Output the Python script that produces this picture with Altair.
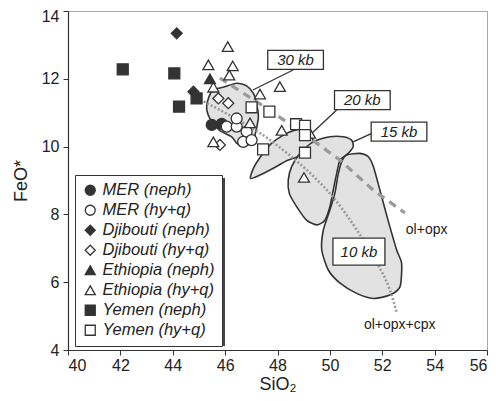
import altair as alt
import pandas as pd

FONT = "Liberation Sans"

# ---------------- sample data (SiO2, FeO*) ----------------
group_names = ["MER (neph)", "MER (hy+q)", "Djibouti (neph)", "Djibouti (hy+q)",
               "Ethiopia (neph)", "Ethiopia (hy+q)", "Yemen (neph)", "Yemen (hy+q)"]
group_shapes = ["circle", "circle", "diamond", "diamond",
                "triangle-up", "triangle-up", "square", "square"]
group_fills = ["#333333", "white", "#333333", "white",
               "#333333", "white", "#333333", "white"]
group_strokes = ["#333333"] * 8

mer_neph_x = [45.49, 45.87]
mer_neph_y = [10.64, 10.67]
mer_hyq_x = [46.06, 46.44, 46.44, 46.82, 46.69, 47.01]
mer_hyq_y = [10.59, 10.59, 10.83, 10.44, 10.14, 10.19]
dji_neph_x = [44.15, 44.79]
dji_neph_y = [13.34, 11.62]
dji_hyq_x = [45.74, 46.12, 45.80]
dji_hyq_y = [11.42, 11.28, 10.05]
eth_neph_x = [45.42]
eth_neph_y = [12.00]
eth_hyq_x = [46.10, 45.36, 46.29, 46.16, 45.55, 48.09, 47.33, 46.95, 48.16, 49.14, 49.24, 45.55, 49.01]
eth_hyq_y = [12.95, 12.41, 12.38, 12.11, 11.75, 11.77, 11.55, 10.70, 10.48, 10.44, 10.39, 10.14, 9.09]
yem_neph_x = [42.09, 44.06, 44.24, 44.91]
yem_neph_y = [12.28, 12.16, 11.18, 11.42]
yem_hyq_x = [47.01, 47.69, 48.71, 49.05, 49.05, 49.05, 47.45]
yem_hyq_y = [11.16, 11.03, 10.66, 10.61, 10.34, 9.82, 9.92]

group_x = [mer_neph_x, mer_hyq_x, dji_neph_x, dji_hyq_x, eth_neph_x, eth_hyq_x, yem_neph_x, yem_hyq_x]
group_y = [mer_neph_y, mer_hyq_y, dji_neph_y, dji_hyq_y, eth_neph_y, eth_hyq_y, yem_neph_y, yem_hyq_y]

# ---------------- melting fields (polygons) ----------------
p30_x = [45.36, 45.55, 45.93, 46.44, 46.82, 47.08, 47.20, 47.27, 47.20, 47.10, 46.95, 46.69, 46.44, 46.25, 45.80, 45.49, 45.30]
p30_y = [11.42, 11.67, 11.75, 11.87, 11.79, 11.57, 11.28, 10.88, 10.54, 10.24, 10.08, 10.00, 10.10, 10.29, 10.47, 10.73, 11.08]
p20_x = [46.97, 47.08, 47.40, 47.78, 48.22, 48.60, 48.99, 49.24, 49.37, 49.24, 48.86, 48.35, 47.84, 47.33]
p20_y = [9.06, 9.36, 9.75, 10.10, 10.34, 10.47, 10.51, 10.39, 10.14, 9.90, 9.72, 9.58, 9.36, 9.16]
p15_x = [48.41, 48.54, 48.86, 49.37, 50.00, 50.51, 50.83, 50.89, 50.70, 50.39, 50.26, 50.13, 50.00, 49.81, 49.50, 49.11, 48.73, 48.45]
p15_y = [9.01, 9.41, 9.80, 10.14, 10.29, 10.29, 10.19, 10.00, 9.80, 9.60, 9.21, 8.72, 8.23, 7.83, 7.69, 7.83, 8.23, 8.62]
p10_x = [50.45, 50.64, 51.15, 51.47, 51.66, 51.91, 52.22, 52.55, 52.74, 52.68, 52.29, 51.66, 51.02, 50.39, 49.94, 49.69, 49.75, 50.00, 50.19, 50.31]
p10_y = [9.55, 9.75, 9.80, 9.70, 9.41, 8.72, 7.83, 6.95, 6.56, 5.87, 5.62, 5.52, 5.67, 5.97, 6.36, 6.95, 7.54, 8.13, 8.62, 9.16]

# ---------------- cotectic lines ----------------
olopx_x = [45.80, 47.33, 48.86, 50.39, 51.65, 52.87]
olopx_y = [12.02, 11.26, 10.46, 9.60, 8.72, 8.04]
olopxcpx_x = [44.77, 46.30, 47.33, 48.36, 49.24, 50.12, 51.03, 51.80, 52.29, 52.56]
olopxcpx_y = [11.49, 10.87, 10.40, 9.81, 9.22, 8.51, 7.54, 6.57, 5.77, 5.09]

# ---------------- pressure labels ----------------
kb_text = ["30 kb", "20 kb", "15 kb"]
kb_x = [48.69, 51.24, 52.64]
kb_y = [12.56, 11.37, 10.44]
lead_x = [47.06, 49.24, 50.89]
lead_y = [11.67, 10.34, 10.14]
lead_x2 = [48.67, 50.26, 51.60]
lead_y2 = [12.29, 11.08, 10.39]
kb10_text = ["10 kb"]
kb10_x = [51.11]
kb10_y = [6.90]

line_text = ["ol+opx", "ol+opx+cpx"]
line_text_x = [52.90, 51.30]
line_text_y = [7.54, 4.74]

# ---------------- build tables ----------------
pts = pd.DataFrame([
    {"SiO2": x, "FeO": y, "group": g}
    for g, xs, ys in zip(group_names, group_x, group_y)
    for x, y in zip(xs, ys)
])

polys = []
for name, xs, ys in [("30", p30_x, p30_y), ("20", p20_x, p20_y), ("15", p15_x, p15_y), ("10", p10_x, p10_y)]:
    for i, (x, y) in enumerate(zip(xs, ys)):
        polys.append({"poly": name, "i": i, "SiO2": x, "FeO": y})
polys = pd.DataFrame(polys)

lines1 = pd.DataFrame({"SiO2": olopx_x, "FeO": olopx_y, "i": range(len(olopx_x))})
lines2 = pd.DataFrame({"SiO2": olopxcpx_x, "FeO": olopxcpx_y, "i": range(len(olopxcpx_x))})
kb = pd.DataFrame({"t": kb_text, "SiO2": kb_x, "FeO": kb_y,
                   "lx": lead_x, "ly": lead_y, "lx2": lead_x2, "ly2": lead_y2})
kb10 = pd.DataFrame({"t": kb10_text, "SiO2": kb10_x, "FeO": kb10_y})
ltxt = pd.DataFrame({"t": line_text, "SiO2": line_text_x, "FeO": line_text_y})

xs = alt.Scale(domain=[40, 56], nice=False)
ys = alt.Scale(domain=[4, 14], nice=False)
X = alt.X("SiO2:Q", scale=xs, title="SiO₂",
          axis=alt.Axis(values=list(range(40, 57, 2)), grid=False))
Y = alt.Y("FeO:Q", scale=ys, title="FeO*",
          axis=alt.Axis(values=list(range(4, 15, 2)), grid=False,
                        labelOffset={"condition": {"test": "datum.value == 14", "value": 5}, "value": 0}))

poly_layer = alt.Chart(polys).mark_line(
    fill="#e2e2e2", stroke="#333333", strokeWidth=1.6,
    interpolate="cardinal-closed", tension=0.3
).encode(x=X, y=Y, detail="poly:N", order="i:Q")

dash_layer = alt.Chart(lines1).mark_line(
    stroke="#9a9a9a", strokeWidth=3.2, strokeDash=[8, 6]
).encode(x=X, y=Y, order="i:Q")

dot_layer = alt.Chart(lines2).mark_line(
    stroke="#9a9a9a", strokeWidth=2.6, strokeDash=[2, 2], interpolate="monotone"
).encode(x=X, y=Y, order="i:Q")

lead_layer = alt.Chart(kb).mark_rule(stroke="#333333", strokeWidth=1.3).encode(
    x=X, y=alt.Y("ly:Q", scale=ys), x2="lx2:Q", y2="ly2:Q"
).transform_calculate(SiO2="datum.lx")

leg = alt.Legend(title=None, orient="none", legendX=7, legendY=164)
pt_layer = alt.Chart(pts).mark_point(
    filled=True, size=120, strokeWidth=1.3, opacity=1
).encode(
    x=X, y=Y,
    shape=alt.Shape("group:N", scale=alt.Scale(domain=group_names, range=group_shapes), legend=leg),
    fill=alt.Fill("group:N", scale=alt.Scale(domain=group_names, range=group_fills), legend=leg),
    stroke=alt.Stroke("group:N", scale=alt.Scale(domain=group_names, range=group_strokes), legend=leg),
)

box_layer = alt.Chart(kb).mark_point(
    shape="M-1,-0.34L1,-0.34L1,0.34L-1,0.34Z", size=3100, filled=True,
    fill="white", stroke="#333333", strokeWidth=1.3, opacity=1
).encode(x=X, y=Y)
box_text = alt.Chart(kb).mark_text(
    font=FONT, fontSize=15, fontStyle="italic", color="#222222"
).encode(x=X, y=Y, text="t:N")

box10_layer = alt.Chart(kb10).mark_point(
    shape="M-1,-0.52L1,-0.52L1,0.52L-1,0.52Z", size=2700, filled=True,
    fill="white", stroke="#333333", strokeWidth=1.3, opacity=1
).encode(x=X, y=Y)
box10_text = alt.Chart(kb10).mark_text(
    font=FONT, fontSize=15, fontStyle="italic", color="#222222"
).encode(x=X, y=Y, text="t:N")

ltxt_layer = alt.Chart(ltxt).mark_text(
    font=FONT, fontSize=14, color="#222222", align="left"
).encode(x=X, y=Y, text="t:N")

shadow = alt.Chart(pd.DataFrame({"a": [0]})).mark_rect(fill="#444444").encode(
    x=alt.value(10), x2=alt.value(157), y=alt.value(167), y2=alt.value(335)
)

chart = alt.layer(
    poly_layer, dash_layer, dot_layer, lead_layer, shadow, pt_layer,
    box_layer, box_text, box10_layer, box10_text, ltxt_layer
).properties(
    width=419, height=339,
    autosize=alt.AutoSizeParams(type="none"),
    padding={"left": 60, "top": 3, "right": 1, "bottom": 50},
).configure_view(
    stroke="#aaaaaa", strokeWidth=1
).configure_axis(
    domainColor="#333333", tickColor="#333333", labelColor="#222222",
    labelFont=FONT, titleFont=FONT, labelFontSize=16, titleFontSize=18,
    titleFontWeight="normal", titleColor="#222222", tickSize=5, domainWidth=1.2
).configure_axisX(
    labelPadding=2, titlePadding=2
).configure_axisY(
    labelPadding=4, titlePadding=11
).configure_legend(
    labelFont=FONT, labelFontSize=16.5, labelFontStyle="italic", labelColor="#222222",
    symbolSize=100, symbolStrokeWidth=1.3,
    rowPadding=3, padding=7, strokeColor="#333333", fillColor="white",
    labelOffset=4
)

chart.save("out.html", embed_options={"renderer": "svg", "actions": False})
